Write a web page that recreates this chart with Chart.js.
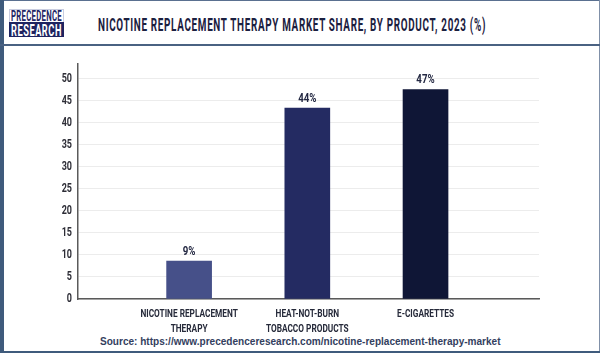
<!DOCTYPE html>
<html>
<head>
<meta charset="utf-8">
<script src="https://cdn.jsdelivr.net/npm/chart.js@4/dist/chart.umd.min.js"></script>
<style>
  html, body { margin: 0; padding: 0; background: #fff; }
  #frame { position: relative; width: 600px; height: 357px; overflow: hidden; background: #fff; }
  #bl { position: absolute; left: 0; top: 0; width: 4px; height: 352px; background: #3f5b7c; }
  #bt { position: absolute; left: 0; top: 0; width: 600px; height: 1px; background: #5a7090; }
  #br { position: absolute; right: 0; top: 0; width: 1px; height: 352px; background: #8090a8; }
  #bb { position: absolute; left: 0; top: 351px; width: 600px; height: 2px; background: #3f5b7c; }
  #hl { position: absolute; left: 0; top: 44px; width: 600px; height: 2px; background: #4a6282; }
  .fit { position: absolute; white-space: nowrap; transform-origin: 0 0; font-family: Roboto, "Liberation Sans", sans-serif; font-weight: bold; }
  #logoBox { position: absolute; left: 9px; top: 9px; width: 55px; height: 28px; border: 1px solid #c9cde0; box-sizing: border-box; background: #fff; }
  #logoBand { position: absolute; left: 9px; top: 22px; width: 55px; height: 15px; background: #1e2360; }
  #logoA { left: 11px; top: 9px; font-size: 14px; line-height: 14px; color: #1e2666; letter-spacing: 0.5px; }
  #logoB { left: 11px; top: 22px; font-size: 17px; line-height: 16px; color: #fff; letter-spacing: 1px; }
  #title { left: 98px; top: 16px; font-size: 17.5px; line-height: 19px; color: #1b2040; letter-spacing: 1.2px; }
  #source { position: absolute; left: 100px; top: 336px; font-family: "Liberation Sans", Arial, sans-serif; font-weight: bold; font-size: 10.05px; color: #33405e; white-space: nowrap; }
  #c { position: absolute; left: 0; top: 0; }
</style>
</head>
<body>
<div id="frame">
  <div id="bt"></div><div id="bl"></div><div id="br"></div><div id="bb"></div><div id="hl"></div>
  <div id="logoBox"></div><div id="logoBand"></div>
  <div id="logoA" class="fit" data-w="51">PRECEDENCE</div>
  <div id="logoB" class="fit" data-w="51">RESEARCH</div>
  <div id="title" class="fit" data-w="388">NICOTINE REPLACEMENT THERAPY MARKET SHARE, BY PRODUCT, 2023 (%)</div>
  <div id="source">Source: https://www.precedenceresearch.com/nicotine-replacement-therapy-market</div>
  <canvas id="c" width="600" height="357"></canvas>
</div>
<script>
const categories = [["NICOTINE REPLACEMENT", "THERAPY"], ["HEAT-NOT-BURN", "TOBACCO PRODUCTS"], ["E-CIGARETTES"]];
const shareValues = [8.6, 43.4, 47.6];
const valueLabels = ["9%", "44%", "47%"];
const yTicks = [0, 5, 10, 15, 20, 25, 30, 35, 40, 45, 50];
const barColors = ["#465089", "#242b62", "#0f1636"];

// squeeze header texts horizontally to imitate the condensed typeface
document.querySelectorAll('.fit').forEach(el => {
  const target = parseFloat(el.dataset.w);
  el.style.transform = 'scaleX(' + (target / el.offsetWidth) + ')';
});

const fontFam = 'Roboto, "Liberation Sans", sans-serif';
const canvas = document.getElementById('c');
const ctx2d = canvas.getContext('2d');
// condensed look for canvas text: draw every string horizontally squeezed around its anchor
const origFillText = ctx2d.fillText;
ctx2d.fillText = function (t, x, y, mw) {
  this.save();
  this.translate(x, y);
  this.scale(0.72, 1);
  origFillText.call(this, t, 0, 0);
  this.restore();
};

const valueLabelPlugin = {
  id: 'valueLabels',
  afterDatasetsDraw(chart) {
    const ctx = chart.ctx;
    const meta = chart.getDatasetMeta(0);
    ctx.save();
    ctx.font = 'bold 13.5px ' + fontFam;
    ctx.fillStyle = '#232842';
    ctx.textAlign = 'center';
    ctx.textBaseline = 'bottom';
    meta.data.forEach((bar, i) => {
      ctx.fillText(valueLabels[i], bar.x, bar.y - 3);
    });
    ctx.restore();
  }
};

new Chart(canvas, {
  type: 'bar',
  data: {
    datasets: [{
      data: shareValues.map((v, i) => ({ x: i, y: v })),
      backgroundColor: barColors,
      barThickness: 45
    }]
  },
  options: {
    responsive: false,
    animation: false,
    events: [],
    layout: { padding: { left: 40, right: 61, top: 64, bottom: 13 } },
    plugins: { legend: { display: false }, tooltip: { enabled: false } },
    scales: {
      x: {
        type: 'linear',
        offset: false,
        min: -0.94,
        max: 2.96,
        afterBuildTicks: (s) => { s.ticks = categories.map((c, i) => ({ value: i })); },
        afterFit: (s) => { s.height = 45; },
        grid: { display: false, drawTicks: false, offset: false },
        border: { display: true, color: '#5a5a5a', width: 1.5 },
        ticks: {
          autoSkip: false,
          maxRotation: 0,
          minRotation: 0,
          padding: 8,
          color: '#262a3a',
          font: { family: fontFam, weight: 'bold', size: 11.5, lineHeight: 1.3 },
          callback: (v) => categories[v]
        }
      },
      y: {
        min: 0,
        max: 53.4,
        afterBuildTicks: (s) => { s.ticks = yTicks.map(v => ({ value: v })); },
        afterFit: (s) => { s.width = 38; },
        grid: { color: '#ececec', lineWidth: 1, drawTicks: false },
        border: { display: true, color: '#5a5a5a', width: 1.5 },
        ticks: {
          padding: 6,
          color: '#2d2d36',
          font: { family: fontFam, weight: 'bold', size: 12.5 }
        }
      }
    }
  },
  plugins: [valueLabelPlugin]
});
</script>
</body>
</html>
